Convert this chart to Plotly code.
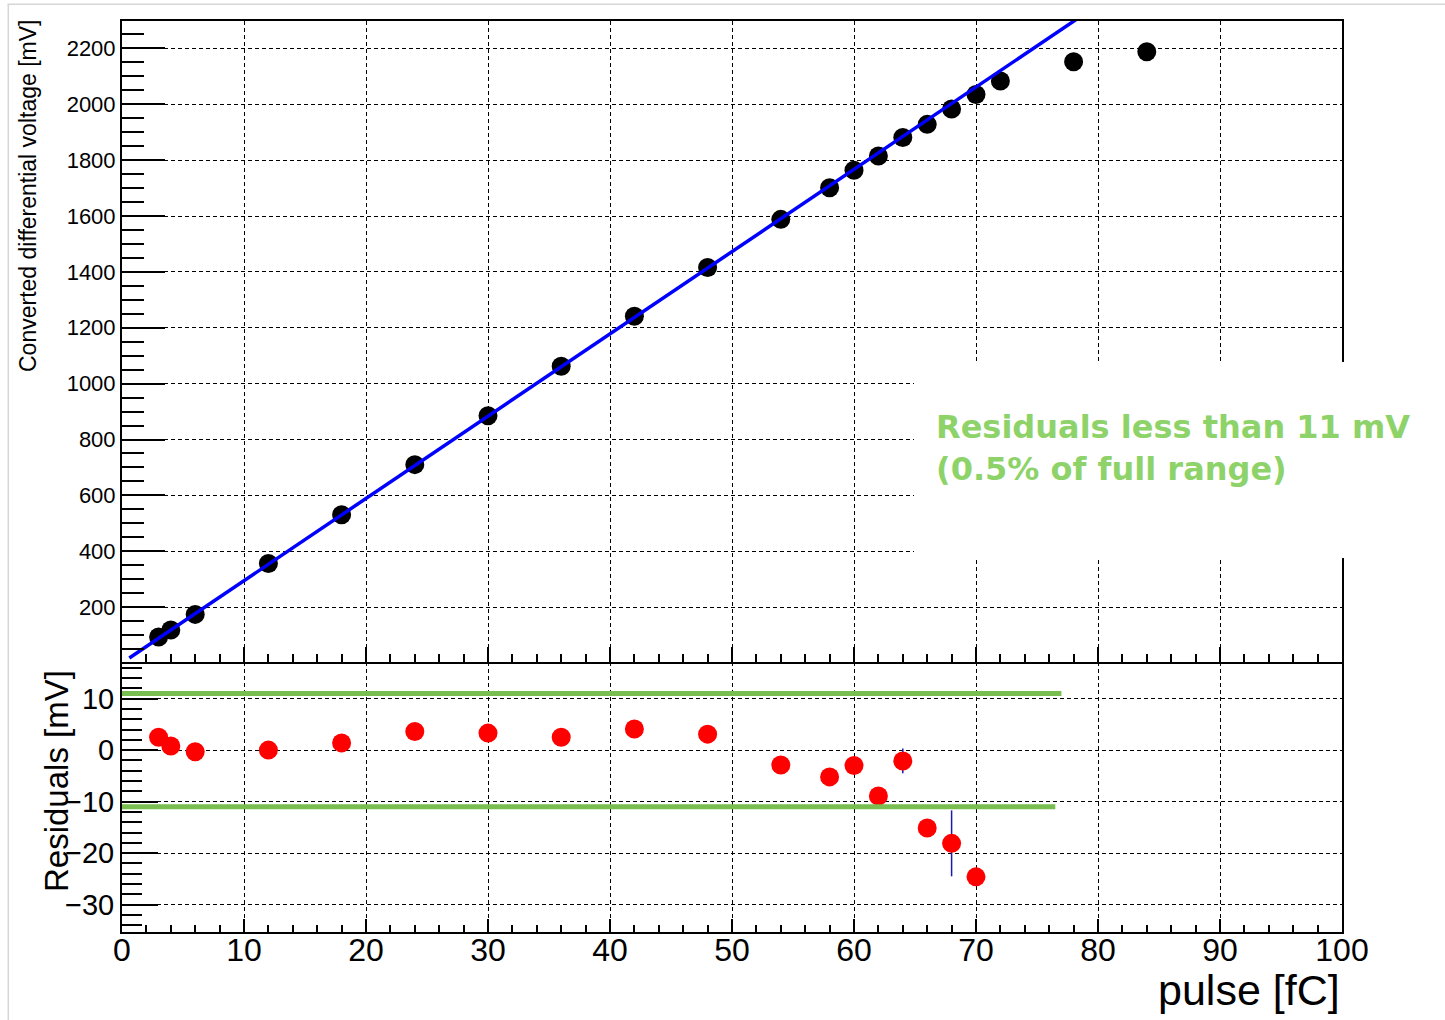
import plotly.graph_objects as go

# ---------------- data ----------------
pulse_fc = [3, 4, 6, 12, 18, 24, 30, 36, 42, 48, 54, 58, 60, 62, 64, 66, 68, 70, 72, 78, 84]
voltage_mv = [93, 118, 174, 356, 531, 710, 885, 1062, 1241, 1416, 1588, 1701, 1764, 1815,
              1881, 1928, 1983, 2035, 2083, 2152, 2188]

fit_slope = 29.45      # mV / fC
fit_intercept = 0.0    # mV
fit_range = [0.6, 80.0]

res_pulse = [3, 4, 6, 12, 18, 24, 30, 36, 42, 48, 54, 58, 60, 62, 64, 66, 68, 70]
residual_mv = [2.5, 0.8, -0.3, 0.0, 1.4, 3.6, 3.3, 2.5, 4.1, 3.1, -2.9, -5.2, -3.0, -8.9,
               -2.1, -15.1, -18.1, -24.6]
residual_err = [0, 0, 0, 0, 0, 0, 0, 0, 0, 0, 0, 0, 0, 0, 2.4, 0, 6.4, 0]

limit_mv = 11
limit_x_end = [77.0, 76.5]

note_text = "Residuals less than 11 mV<br>(0.5% of full range)"

# ---------------- layout helpers ----------------
W, H = 1445, 1020
ML, MR, MT, MB = 122, 103, 21, 88
PW, PH = W - ML - MR, H - MT - MB
split = 270 / PH


def px(xp):
    return (xp - ML) / PW


def py(yp):
    return (H - MB - yp) / PH


fit_x = list(fit_range)
fit_y = [fit_slope * v + fit_intercept for v in fit_x]

fig = go.Figure()
fig.add_trace(go.Scatter(x=pulse_fc, y=voltage_mv, mode="markers",
                         marker=dict(color="black", size=19), xaxis="x", yaxis="y",
                         showlegend=False))
fig.add_trace(go.Scatter(x=fit_x, y=fit_y, mode="lines",
                         line=dict(color="#0000ff", width=3.5), xaxis="x", yaxis="y",
                         showlegend=False))
fig.add_trace(go.Scatter(x=res_pulse, y=residual_mv, mode="markers",
                         marker=dict(color="#ff0000", size=19),
                         error_y=dict(type="data", array=residual_err, visible=True,
                                      color="#1a1ab0", thickness=1.5, width=0),
                         xaxis="x2", yaxis="y2", showlegend=False))

grid = dict(showgrid=True, gridcolor="black", gridwidth=1.3, griddash="4px,3px",
            showline=True, linecolor="black", linewidth=2,
            ticks="inside", tickcolor="black", tickwidth=1.5, zeroline=False)

font_main = "Liberation Sans, Arial, sans-serif"

fig.update_layout(
    width=W, height=H,
    margin=dict(l=ML, r=MR, t=MT, b=MB),
    paper_bgcolor="white", plot_bgcolor="white",
    font=dict(family=font_main, color="black"),
    xaxis=dict(domain=[0, 1], anchor="y", range=[0, 100], dtick=10, tick0=0,
               ticklen=15, showticklabels=False, mirror=True,
               minor=dict(dtick=2, ticklen=8, ticks="inside", tickcolor="black", tickwidth=1.5),
               **grid),
    yaxis=dict(domain=[split, 1], anchor="x", range=[3.6, 2298], dtick=200, tick0=0,
               ticklen=43, tickfont=dict(size=22, family=font_main), mirror=True,
               minor=dict(dtick=50, ticklen=22, ticks="inside", tickcolor="black", tickwidth=1.5),
               **grid),
    xaxis2=dict(domain=[0, 1], anchor="y2", range=[0, 100], dtick=10, tick0=0,
                ticklen=13, tickfont=dict(size=32, family=font_main), mirror=False,
                ticklabelstandoff=-11,
                minor=dict(dtick=2, ticklen=7, ticks="inside", tickcolor="black", tickwidth=1.5),
                **grid),
    yaxis2=dict(domain=[0, split], anchor="x2", range=[-35.3, 17.1], dtick=10, tick0=0,
                ticklen=36, tickfont=dict(size=29, family=font_main), mirror=True,
                minor=dict(dtick=2, ticklen=20, ticks="inside", tickcolor="black", tickwidth=1.5),
                **grid),
)

# residual limits
fig.add_shape(type="line", xref="x2", yref="y2", x0=0, x1=limit_x_end[0], y0=limit_mv, y1=limit_mv,
              line=dict(color="#78be50", width=5), layer="above")
fig.add_shape(type="line", xref="x2", yref="y2", x0=0, x1=limit_x_end[1], y0=-limit_mv, y1=-limit_mv,
              line=dict(color="#78be50", width=5), layer="above")

# white box behind annotation
fig.add_shape(type="rect", xref="paper", yref="paper", x0=px(914), x1=px(W), y0=py(558), y1=py(362),
              fillcolor="white", line=dict(width=0), layer="above")

# screenshot border lines
fig.add_shape(type="line", xref="paper", yref="paper", x0=px(7.5), x1=px(W), y0=py(4.3), y1=py(4.3),
              line=dict(color="#d6d6d6", width=1.5), layer="above")
fig.add_shape(type="line", xref="paper", yref="paper", x0=px(8.3), x1=px(8.3), y0=py(4.3), y1=py(H),
              line=dict(color="#d6d6d6", width=1.5), layer="above")

fig.add_annotation(text=note_text, xref="paper", yref="paper", x=px(934), y=py(448),
                   xanchor="left", yanchor="middle", align="left", showarrow=False,
                   font=dict(family="DejaVu Sans", size=32, color="#8ed36a", weight="bold"))

fig.add_annotation(text="Converted differential voltage [mV]", xref="paper", yref="paper",
                   x=px(28), y=py(196), textangle=-90, showarrow=False,
                   xanchor="center", yanchor="middle", font=dict(size=23, family=font_main))
fig.add_annotation(text="Residuals [mV]", xref="paper", yref="paper",
                   x=px(56), y=py(781), textangle=-90, showarrow=False,
                   xanchor="center", yanchor="middle", font=dict(size=33, family=font_main))
fig.add_annotation(text="pulse [fC]", xref="paper", yref="paper",
                   x=px(1342), y=py(990), showarrow=False,
                   xanchor="right", yanchor="middle", font=dict(size=43, family=font_main))

fig.write_html("out.html")
